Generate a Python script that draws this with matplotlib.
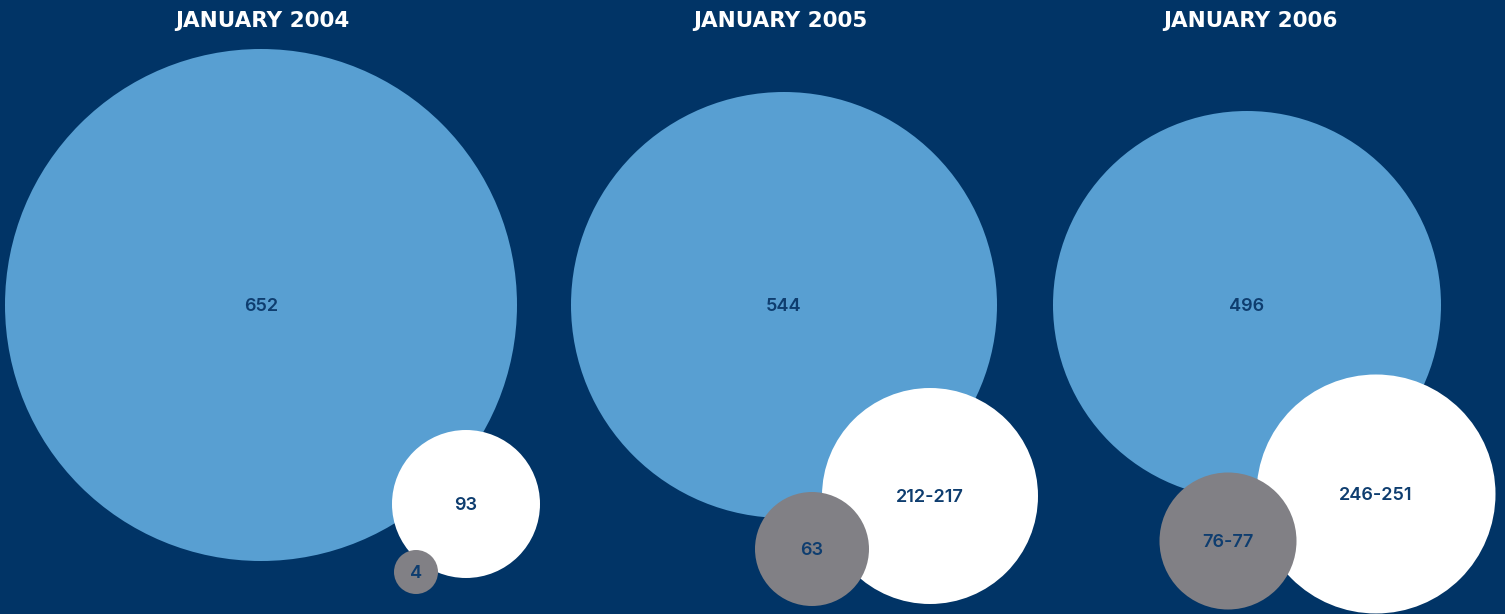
import matplotlib
matplotlib.use("Agg")
import matplotlib.pyplot as plt
from matplotlib.patches import Circle

# ---- data ----
titles = ["JANUARY 2004", "JANUARY 2005", "JANUARY 2006"]
blue_labels = ["652", "544", "496"]
white_labels = ["93", "212-217", "246-251"]
gray_labels = ["4", "63", "76-77"]

# ---- layout (pixel space) ----
W, H = 1505, 614
blue_centers = [(261, 305), (784, 305), (1247, 305)]
blue_r = [256, 213, 194]
white_centers = [(466, 504), (930, 496), (1376, 494)]
white_r = [74, 108, 119.5]
gray_centers = [(416, 572), (812, 549), (1228, 541)]
gray_r = [22, 57, 68.5]
title_x = [262, 780, 1250]
title_y = 21

BG = "#013466"
BLUE = "#589fd2"
WHITE = "#ffffff"
GRAY = "#818085"
TXT = "#0e3d6f"

fig = plt.figure(figsize=(W / 100, H / 100), dpi=100, facecolor=BG)
ax = fig.add_axes([0, 0, 1, 1])
ax.set_facecolor(BG)
ax.set_xlim(0, W)
ax.set_ylim(H, 0)
ax.set_aspect("equal")
ax.axis("off")

for i in range(3):
    for (c, r, col, lab) in [
        (blue_centers[i], blue_r[i], BLUE, blue_labels[i]),
        (white_centers[i], white_r[i], WHITE, white_labels[i]),
        (gray_centers[i], gray_r[i], GRAY, gray_labels[i]),
    ]:
        ax.add_patch(Circle(c, r, facecolor=col, edgecolor="none"))
        ax.text(c[0], c[1] + 1.5, lab, ha="center", va="center", color=TXT,
                fontsize=13, fontweight="semibold", family="Inter")
    ax.text(title_x[i], title_y, titles[i], ha="center", va="center",
            color="white", fontsize=15.5, fontweight="bold", family="DejaVu Sans")

fig.savefig("out.png", dpi=100, facecolor=BG)
